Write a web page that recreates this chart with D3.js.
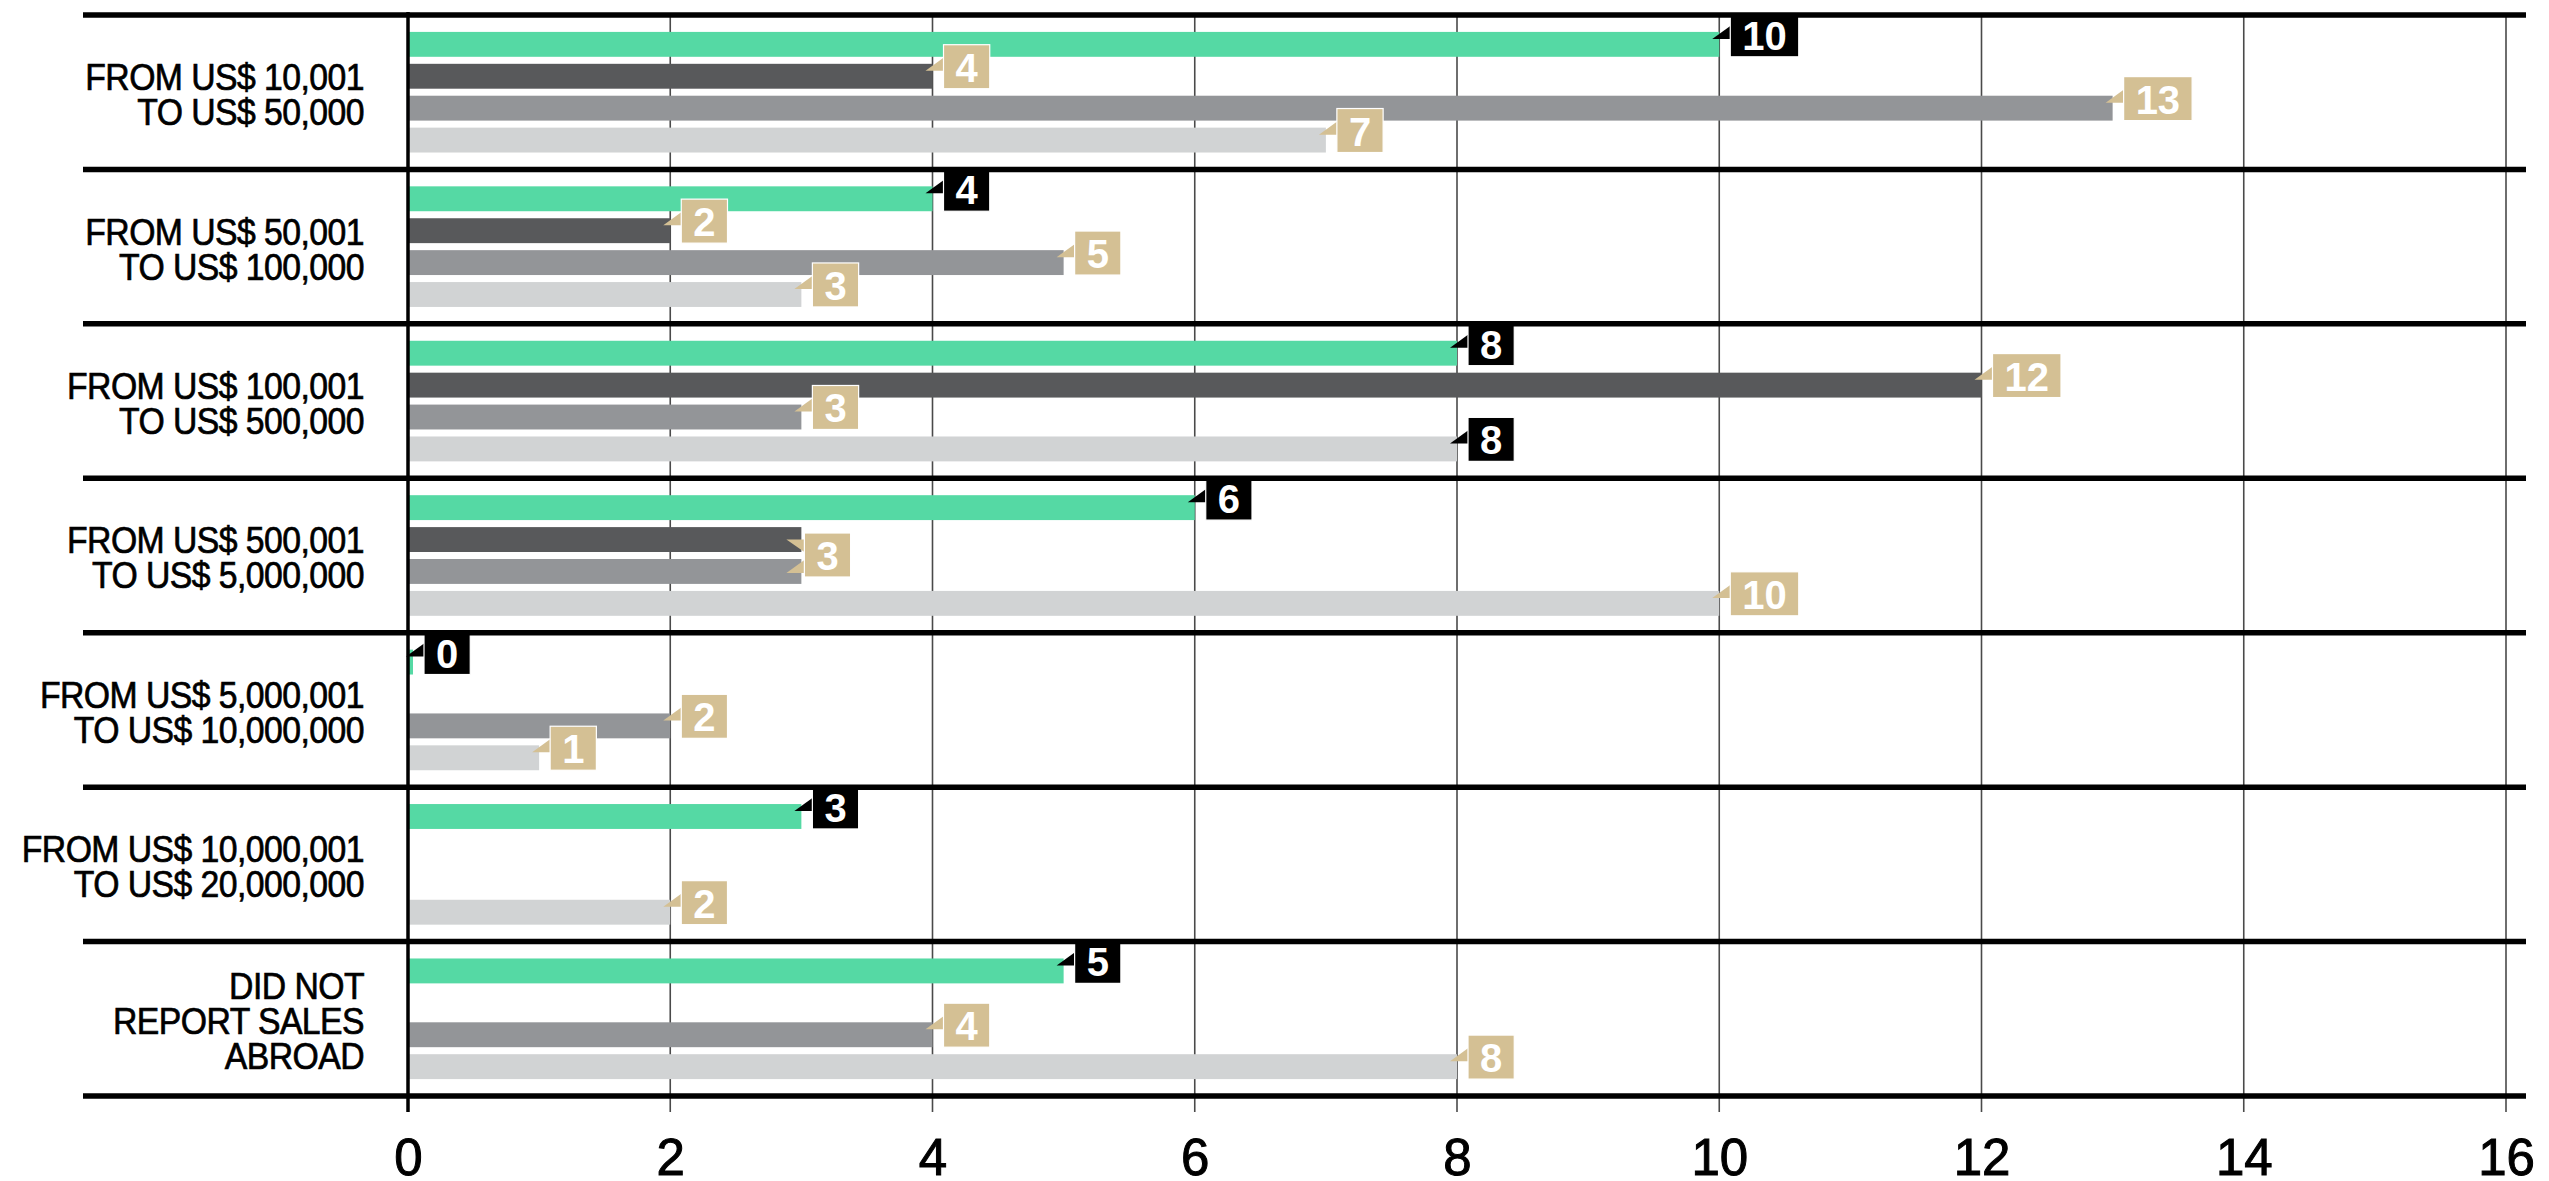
<!DOCTYPE html>
<html><head><meta charset="utf-8">
<script src="https://cdn.jsdelivr.net/npm/d3@7/dist/d3.min.js"></script>
<style>body{margin:0;background:#fff;overflow:hidden}</style>
</head><body><svg id="c" width="2549" height="1181"></svg>
<script>
const categories = [
  "FROM US$ 10,001\nTO US$ 50,000",
  "FROM US$ 50,001\nTO US$ 100,000",
  "FROM US$ 100,001\nTO US$ 500,000",
  "FROM US$ 500,001\nTO US$ 5,000,000",
  "FROM US$ 5,000,001\nTO US$ 10,000,000",
  "FROM US$ 10,000,001\nTO US$ 20,000,000",
  "DID NOT\nREPORT SALES\nABROAD"
];
const seriesNames = ["S1", "S2", "S3", "S4"];
const seriesGreen = [10, 4, 8, 6, 0, 3, 5];
const seriesDark  = [4, 2, 12, 3, null, null, null];
const seriesMid   = [13, 5, 3, 3, 2, null, 4];
const seriesLight = [7, 3, 8, 10, 1, 2, 8];
const tickValues = [0, 2, 4, 6, 8, 10, 12, 14, 16];

const colors = ["#55d9a4", "#58595b", "#939598", "#d1d3d4"];
const seriesValues = [seriesGreen, seriesDark, seriesMid, seriesLight];

const svg = d3.select("#c");
const x = d3.scaleLinear().domain([0, 16]).range([408, 2506]);
const y = d3.scaleBand().domain(categories).range([15, 1096]);
const yi = d3.scaleBand().domain(seriesNames).range([0, y.bandwidth()]).paddingInner(0.22).paddingOuter(0.53);
const bh = yi.bandwidth();

const records = [];
categories.forEach((c, ci) => {
  seriesNames.forEach((s, si) => {
    const v = seriesValues[si][ci];
    if (v !== null && v !== undefined) {
      records.push({cat: c, ci, ser: s, si, value: v, highlight: si === 0 || v === seriesGreen[ci]});
    }
  });
});

// labels: merge adjacent equal-valued labels in the same category
const labels = [];
records.forEach(r => {
  const last = labels[labels.length - 1];
  if (last && last.cat === r.cat && last.value === r.value && !last.highlight && !r.highlight
      && last.sers.length === 1 && seriesNames.indexOf(last.sers[0]) === r.si - 1) {
    last.sers.push(r.ser);
  } else {
    labels.push({cat: r.cat, value: r.value, highlight: r.highlight, sers: [r.ser]});
  }
});

// gridlines
svg.append("g").selectAll("line").data(tickValues.filter(t => t !== 0)).join("line")
  .attr("x1", d => x(d)).attr("x2", d => x(d))
  .attr("y1", 15).attr("y2", 1112)
  .attr("stroke", "#4a4a4a").attr("stroke-width", 1.6);

// bars
svg.append("g").selectAll("rect").data(records).join("rect")
  .attr("x", x(0))
  .attr("y", d => y(d.cat) + yi(d.ser))
  .attr("width", d => Math.max(x(d.value) - x(0), 5))
  .attr("height", bh)
  .attr("fill", d => colors[d.si]);

// value labels
const labG = svg.append("g");
labels.forEach(d => {
  const fill = d.highlight ? "#000" : "#d4c094";
  const g = labG.append("g");
  const t = g.append("text")
    .attr("font-family", "'Liberation Sans', Arial, sans-serif")
    .attr("font-weight", "bold")
    .attr("font-size", 40)
    .attr("fill", "#fff")
    .attr("text-anchor", "middle")
    .text(d.value);
  const w = t.node().getComputedTextLength() + 24;
  let bx, boxTop, ptrs;
  if (d.sers.length === 1) {
    const top = y(d.cat) + yi(d.sers[0]);
    bx = Math.max(x(d.value), x(0) + 5) + 11;
    boxTop = top + bh - 44;
    ptrs = [`M${bx},${top - 6} L${bx},${top + 7} L${bx - 18},${top + 7} Z`];
  } else {
    const t1 = y(d.cat) + yi(d.sers[0]);
    const t2 = y(d.cat) + yi(d.sers[1]);
    const mid = (t1 + t2) / 2 + bh / 2;
    bx = x(d.value) + 3;
    boxTop = mid - 22.5;
    ptrs = [
      `M${bx},${t1 + bh / 2} L${bx - 18},${t1 + bh / 2} L${bx},${t1 + bh} Z`,
      `M${bx},${t2 + 1} L${bx},${t2 + 14} L${bx - 18},${t2 + 14} Z`
    ];
  }
  ptrs.forEach(p => g.insert("path", "text").attr("d", p).attr("fill", fill));
  g.insert("rect", "text")
    .attr("x", bx).attr("y", boxTop)
    .attr("width", w).attr("height", 44)
    .attr("fill", fill)
    .attr("stroke", "#fff").attr("stroke-width", 1.2);
  t.attr("x", bx + w / 2).attr("y", boxTop + 37);
});

// horizontal separators
const seps = categories.map(c => y(c)).concat([y(categories[categories.length - 1]) + y.bandwidth()]);
svg.append("g").selectAll("line").data(seps).join("line")
  .attr("x1", 83).attr("x2", 2526)
  .attr("y1", d => d).attr("y2", d => d)
  .attr("stroke", "#000").attr("stroke-width", 5.5);

// zero axis line
svg.append("line")
  .attr("x1", x(0)).attr("x2", x(0)).attr("y1", 12).attr("y2", 1112)
  .attr("stroke", "#000").attr("stroke-width", 3.5);

// category labels (condensed)
const catG = svg.append("g").selectAll("text").data(categories).join("text")
  .attr("text-anchor", "end")
  .attr("transform", "translate(364,0) scale(0.9,1)")
  .attr("font-family", "'Liberation Sans', Arial, sans-serif")
  .attr("font-size", 37.5)
  .attr("fill", "#000")
  .attr("stroke", "#000").attr("stroke-width", 0.7)
  .attr("letter-spacing", -0.6);
catG.each(function(c) {
  const lines = c.split("\n");
  const cy = y(c) + y.bandwidth() / 2;
  const lh = 35;
  const t = d3.select(this);
  lines.forEach((ln, i) => {
    t.append("tspan")
      .attr("x", 0)
      .attr("y", cy + (i - (lines.length - 1) / 2) * lh + 15.5)
      .text(ln);
  });
});

// x axis tick labels
const xAxis = d3.axisBottom(x).tickValues(tickValues).tickSize(0).tickFormat(d3.format("d"));
const ax = svg.append("g").attr("transform", "translate(0,1130)").call(xAxis);
ax.select(".domain").remove();
ax.selectAll("text")
  .attr("font-family", "'Liberation Sans', Arial, sans-serif")
  .attr("font-size", 51)
  .attr("fill", "#000")
  .attr("stroke", "#000").attr("stroke-width", 1)
  .attr("dy", 0).attr("y", 45);
</script>
</body></html>
